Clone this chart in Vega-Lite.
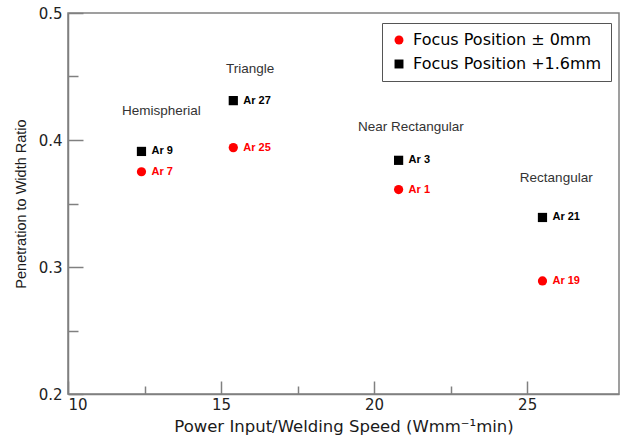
{
  "$schema": "https://vega.github.io/schema/vega-lite/v6.json",
  "width": 551,
  "height": 381,
  "autosize": "none",
  "padding": {"left": 68, "top": 13, "right": 4, "bottom": 49},
  "background": "white",
  "config": {
    "font": "Liberation Sans",
    "view": {"stroke": "#808080", "strokeWidth": 1.5},
    "axis": {
      "domainColor": "#808080",
      "domainWidth": 1.5,
      "tickColor": "#808080",
      "tickWidth": 1.5,
      "grid": false,
      "labelFont": "DejaVu Sans",
      "labelFontSize": 15,
      "labelColor": "#222222",
      "titleFontWeight": "normal",
      "titleColor": "#1a1a1a"
    }
  },
  "datasets": {
    "points": [
      {"series": "Focus Position ± 0mm", "run": "Ar 7", "power": 12.4, "ratio": 0.375},
      {"series": "Focus Position +1.6mm", "run": "Ar 9", "power": 12.4, "ratio": 0.391},
      {"series": "Focus Position ± 0mm", "run": "Ar 25", "power": 15.4, "ratio": 0.394},
      {"series": "Focus Position +1.6mm", "run": "Ar 27", "power": 15.4, "ratio": 0.431},
      {"series": "Focus Position ± 0mm", "run": "Ar 1", "power": 20.8, "ratio": 0.361},
      {"series": "Focus Position +1.6mm", "run": "Ar 3", "power": 20.8, "ratio": 0.384},
      {"series": "Focus Position ± 0mm", "run": "Ar 19", "power": 25.5, "ratio": 0.289},
      {"series": "Focus Position +1.6mm", "run": "Ar 21", "power": 25.5, "ratio": 0.339}
    ],
    "shapes": [
      {"shape": "Hemispherial", "power": 13.05, "ratio": 0.423},
      {"shape": "Triangle", "power": 15.95, "ratio": 0.456},
      {"shape": "Near Rectangular", "power": 21.2, "ratio": 0.41},
      {"shape": "Rectangular", "power": 25.95, "ratio": 0.37}
    ]
  },
  "layer": [
    {
      "data": {"name": "points"},
      "mark": {"type": "point", "filled": true, "opacity": 1, "size": 85},
      "encoding": {
        "x": {
          "field": "power",
          "type": "quantitative",
          "scale": {"domain": [10, 28], "nice": false, "zero": false},
          "axis": {
            "title": "Power Input/Welding Speed (Wmm⁻¹min)",
            "titleFont": "DejaVu Sans",
            "titleFontSize": 16.5,
            "values": [10, 12.5, 15, 17.5, 20, 22.5, 25],
            "labelExpr": "datum.value % 5 === 0 ? datum.label : ''",
            "labelFlush": true,
            "labelPadding": 16,
            "tickSize": {"condition": {"test": "datum.value % 5 === 0", "value": -13}, "value": -8},
            "titlePadding": 6
          }
        },
        "y": {
          "field": "ratio",
          "type": "quantitative",
          "scale": {"domain": [0.2, 0.5], "nice": false, "zero": false},
          "axis": {
            "title": "Penetration to Width Ratio",
            "titleFont": "Liberation Sans",
            "titleFontSize": 14.5,
            "values": [0.2, 0.25, 0.3, 0.35, 0.4, 0.45, 0.5],
            "format": ".1f",
            "labelExpr": "abs(datum.value * 10 - round(datum.value * 10)) < 0.01 ? datum.label : ''",
            "labelPadding": 21,
            "tickSize": {"condition": {"test": "abs(datum.value * 10 - round(datum.value * 10)) < 0.01", "value": -15}, "value": -10},
            "titlePadding": 10
          }
        },
        "color": {
          "field": "series",
          "type": "nominal",
          "scale": {"domain": ["Focus Position ± 0mm", "Focus Position +1.6mm"], "range": ["#ff0000", "#000000"]},
          "legend": {
            "title": null,
            "orient": "none",
            "legendX": 314,
            "legendY": 10,
            "direction": "vertical",
            "strokeColor": "#555555",
            "fillColor": "white",
            "padding": 9,
            "labelFont": "DejaVu Sans",
            "labelFontSize": 16,
            "labelLimit": 400,
            "labelOffset": 6,
            "rowPadding": 8,
            "symbolSize": 80,
            "encode": {
              "labels": {"update": {"fill": {"signal": "datum.index === 0 ? '#ff0000' : '#000000'"}}},
              "symbols": {"update": {"size": {"signal": "datum.index === 0 ? 110 : 50"}}}
            }
          }
        },
        "shape": {
          "field": "series",
          "type": "nominal",
          "scale": {"domain": ["Focus Position ± 0mm", "Focus Position +1.6mm"], "range": ["circle", "square"]},
          "legend": null
        }
      }
    },
    {
      "data": {"name": "points"},
      "mark": {"type": "text", "align": "left", "baseline": "middle", "dx": 10, "fontSize": 11, "fontWeight": "bold"},
      "encoding": {
        "x": {"field": "power", "type": "quantitative"},
        "y": {"field": "ratio", "type": "quantitative"},
        "text": {"field": "run"},
        "color": {"field": "series", "type": "nominal", "legend": null}
      }
    },
    {
      "data": {"name": "shapes"},
      "mark": {"type": "text", "align": "center", "baseline": "middle", "fontSize": 13.5, "color": "#333333"},
      "encoding": {
        "x": {"field": "power", "type": "quantitative"},
        "y": {"field": "ratio", "type": "quantitative"},
        "text": {"field": "shape"}
      }
    }
  ]
}
